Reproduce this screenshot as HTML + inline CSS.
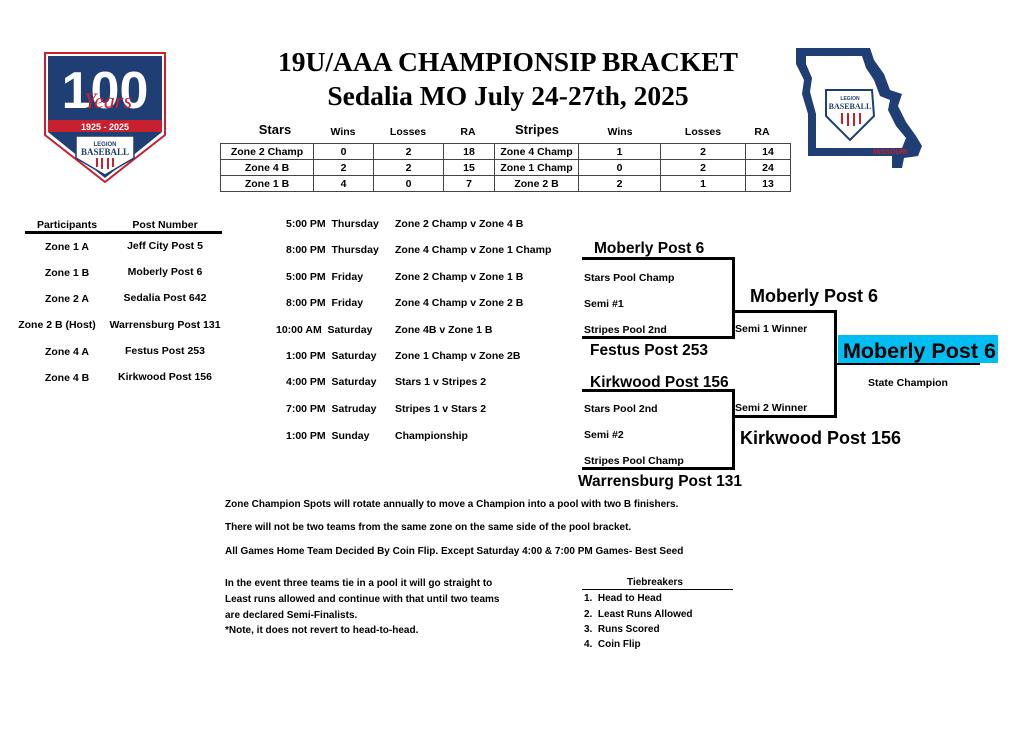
<!DOCTYPE html>
<html><head><meta charset="utf-8"><style>
body{margin:0;width:1024px;height:742px;background:#fff;position:relative;overflow:hidden;font-family:"Liberation Sans",sans-serif;color:#000}
.t{position:absolute;white-space:nowrap;font-weight:bold;font-size:10.5px;line-height:12px}
.c{transform:translateX(-50%)}
.a{font-family:"Liberation Sans",sans-serif;font-weight:bold}
.l{position:absolute;background:#000}
table{position:absolute;left:220px;top:143px;border-collapse:collapse;font-weight:bold;font-size:10.5px}
td{border:1px solid #444;height:15px;padding:0;text-align:center}
</style></head><body>
<svg style="position:absolute;left:40px;top:50px" width="130" height="135" viewBox="0 0 130 135">
<polygon points="5,3 125,3 125,85 65,132 5,85" fill="#fff" stroke="#c8202f" stroke-width="2"/>
<polygon points="8,6 122,6 122,70 8,70" fill="#1f3e74"/>
<text x="65" y="58" font-family="Liberation Sans" font-weight="bold" font-size="52" fill="#fff" text-anchor="middle">100</text>
<text x="68" y="58" font-family="Liberation Serif" font-style="italic" font-size="22" fill="#c8202f" text-anchor="middle">Years</text>
<rect x="8" y="70" width="114" height="12" fill="#c8202f"/>
<text x="65" y="80" font-family="Liberation Sans" font-weight="bold" font-size="9" fill="#fff" text-anchor="middle">1925 - 2025</text>
<polygon points="8,82 122,82 65,128" fill="#1f3e74"/>
<polygon points="36,86 94,86 94,108 65,125 36,108" fill="#fff" stroke="#1f3e74" stroke-width="1.5"/>
<text x="65" y="96" font-size="6" font-family="Liberation Sans" font-weight="bold" fill="#1f3e74" text-anchor="middle">LEGION</text>
<text x="65" y="105" font-size="9" font-family="Liberation Serif" font-weight="bold" fill="#1f3e74" text-anchor="middle">BASEBALL</text>
<g stroke="#c8202f" stroke-width="2"><line x1="57" y1="108" x2="57" y2="117"/><line x1="62" y1="108" x2="62" y2="119"/><line x1="68" y1="108" x2="68" y2="119"/><line x1="73" y1="108" x2="73" y2="117"/></g>
</svg>
<svg style="position:absolute;left:792px;top:44px" width="140" height="125" viewBox="0 0 140 125">
<polygon points="4,4 78,4 82,16 92,30 98,46 110,50 106,62 114,78 124,92 130,102 126,112 112,114 110,124 100,124 100,112 16,112 16,70 10,50 12,36 4,20" fill="#1f3e74"/>
<polygon points="14,12 70,12 74,24 82,36 88,52 98,56 96,66 104,82 114,94 110,104 24,104 24,70 18,48 20,34 14,20" fill="#fff"/>
<polygon points="34,46 80,46 82,72 58,96 34,72" fill="#fff" stroke="#1f3e74" stroke-width="2"/>
<text x="58" y="56" font-size="5" font-family="Liberation Sans" font-weight="bold" fill="#1f3e74" text-anchor="middle">LEGION</text>
<text x="58" y="65" font-size="8" font-family="Liberation Serif" font-weight="bold" fill="#1f3e74" text-anchor="middle">BASEBALL</text>
<g stroke="#c8202f" stroke-width="2"><line x1="50" y1="69" x2="50" y2="80"/><line x1="56" y1="69" x2="56" y2="82"/><line x1="62" y1="69" x2="62" y2="82"/><line x1="68" y1="69" x2="68" y2="80"/></g>
<text x="98" y="110" font-size="7" font-family="Liberation Sans" font-weight="bold" font-style="italic" fill="#c8202f" text-anchor="middle">MISSOURI</text>
</svg>
<div class="t c" style="left:508px;top:46px;font-family:'Liberation Serif',serif;font-size:27.5px;line-height:32px">19U/AAA CHAMPIONSIP BRACKET</div>
<div class="t c" style="left:508px;top:80px;font-family:'Liberation Serif',serif;font-size:27.5px;line-height:32px">Sedalia MO July 24-27th, 2025</div>
<div class="t c" style="left:275px;top:124px;font-size:13px">Stars</div>
<div class="t c" style="left:343px;top:126px">Wins</div>
<div class="t c" style="left:408px;top:126px">Losses</div>
<div class="t c" style="left:468px;top:126px">RA</div>
<div class="t c" style="left:537px;top:124px;font-size:13px">Stripes</div>
<div class="t c" style="left:620px;top:126px">Wins</div>
<div class="t c" style="left:703px;top:126px">Losses</div>
<div class="t c" style="left:762px;top:126px">RA</div>
<table>
<tr><td style="width:92px">Zone 2 Champ</td><td style="width:59px">0</td><td style="width:69px">2</td><td style="width:50px">18</td><td style="width:83px">Zone 4 Champ</td><td style="width:81px">1</td><td style="width:84px">2</td><td style="width:44px">14</td></tr>
<tr><td>Zone 4 B</td><td>2</td><td>2</td><td>15</td><td>Zone 1 Champ</td><td>0</td><td>2</td><td>24</td></tr>
<tr><td>Zone 1 B</td><td>4</td><td>0</td><td>7</td><td>Zone 2 B</td><td>2</td><td>1</td><td>13</td></tr>
</table>
<div class="t c" style="left:67px;top:219px">Participants</div>
<div class="t c" style="left:165px;top:219px">Post Number</div>
<div class="l" style="left:25px;top:231px;width:197px;height:3px"></div>
<div class="t c" style="left:67px;top:241px">Zone 1 A</div><div class="t c" style="left:165px;top:240px">Jeff City Post 5</div>
<div class="t c" style="left:67px;top:267px">Zone 1 B</div><div class="t c" style="left:165px;top:266px">Moberly Post 6</div>
<div class="t c" style="left:67px;top:293px">Zone 2 A</div><div class="t c" style="left:165px;top:292px">Sedalia Post 642</div>
<div class="t c" style="left:57px;top:319px">Zone 2 B (Host)</div><div class="t c" style="left:165px;top:319px">Warrensburg Post 131</div>
<div class="t c" style="left:67px;top:346px">Zone 4 A</div><div class="t c" style="left:165px;top:345px">Festus Post 253</div>
<div class="t c" style="left:67px;top:372px">Zone 4 B</div><div class="t c" style="left:165px;top:371px">Kirkwood Post 156</div>
<div class="t" style="left:286px;top:218px">5:00 PM &nbsp;Thursday</div><div class="t" style="left:395px;top:218px">Zone 2 Champ v Zone 4 B</div>
<div class="t" style="left:286px;top:244px">8:00 PM &nbsp;Thursday</div><div class="t" style="left:395px;top:244px">Zone 4 Champ v Zone 1 Champ</div>
<div class="t" style="left:286px;top:271px">5:00 PM &nbsp;Friday</div><div class="t" style="left:395px;top:271px">Zone 2 Champ v Zone 1 B</div>
<div class="t" style="left:286px;top:297px">8:00 PM &nbsp;Friday</div><div class="t" style="left:395px;top:297px">Zone 4 Champ v Zone 2 B</div>
<div class="t" style="left:276px;top:324px">10:00 AM &nbsp;Saturday</div><div class="t" style="left:395px;top:324px">Zone 4B v Zone 1 B</div>
<div class="t" style="left:286px;top:350px">1:00 PM &nbsp;Saturday</div><div class="t" style="left:395px;top:350px">Zone 1 Champ v Zone 2B</div>
<div class="t" style="left:286px;top:376px">4:00 PM &nbsp;Saturday</div><div class="t" style="left:395px;top:376px">Stars 1 v Stripes 2</div>
<div class="t" style="left:286px;top:403px">7:00 PM &nbsp;Satruday</div><div class="t" style="left:395px;top:403px">Stripes 1 v Stars 2</div>
<div class="t" style="left:286px;top:430px">1:00 PM &nbsp;Sunday</div><div class="t" style="left:395px;top:430px">Championship</div>
<div class="l" style="left:582px;top:257px;width:153px;height:3px"></div>
<div class="l" style="left:732px;top:257px;width:3px;height:82px"></div>
<div class="l" style="left:582px;top:336px;width:153px;height:3px"></div>
<div class="l" style="left:582px;top:389px;width:153px;height:3px"></div>
<div class="l" style="left:732px;top:389px;width:3px;height:81px"></div>
<div class="l" style="left:582px;top:467px;width:153px;height:3px"></div>
<div class="l" style="left:733px;top:310px;width:104px;height:3px"></div>
<div class="l" style="left:834px;top:310px;width:3px;height:107px"></div>
<div class="l" style="left:733px;top:415px;width:104px;height:3px"></div>
<div class="l" style="left:835px;top:363px;width:145px;height:2px"></div>
<div style="position:absolute;left:838px;top:335px;width:160px;height:28px;background:#00bef2"></div>
<div class="t a" style="left:594px;top:240px;font-size:15.5px;line-height:18px">Moberly Post 6</div>
<div class="t" style="left:584px;top:272px">Stars Pool Champ</div>
<div class="t" style="left:584px;top:298px">Semi #1</div>
<div class="t" style="left:584px;top:324px">Stripes Pool 2nd</div>
<div class="t a" style="left:590px;top:342px;font-size:15.5px;line-height:18px">Festus Post 253</div>
<div class="t a" style="left:590px;top:374px;font-size:15.5px;line-height:18px">Kirkwood Post 156</div>
<div class="t" style="left:584px;top:403px">Stars Pool 2nd</div>
<div class="t" style="left:584px;top:429px">Semi #2</div>
<div class="t" style="left:584px;top:455px">Stripes Pool Champ</div>
<div class="t a" style="left:578px;top:473px;font-size:15.5px;line-height:18px">Warrensburg Post 131</div>
<div class="t a" style="left:750px;top:286px;font-size:18px;line-height:21px">Moberly Post 6</div>
<div class="t" style="left:735px;top:323px">Semi 1 Winner</div>
<div class="t" style="left:735px;top:402px">Semi 2 Winner</div>
<div class="t a" style="left:740px;top:428px;font-size:18px;line-height:21px">Kirkwood Post 156</div>
<div class="t a" style="left:843px;top:338px;font-size:21.5px;line-height:26px">Moberly Post 6</div>
<div class="t c" style="left:908px;top:377px">State Champion</div>
<div class="t" style="left:225px;top:499px;font-size:10px">Zone Champion Spots will rotate annually to move a Champion into a pool with two B finishers.</div>
<div class="t" style="left:225px;top:522px;font-size:10px">There will not be two teams from the same zone on the same side of the pool bracket.</div>
<div class="t" style="left:225px;top:546px;font-size:10px">All Games Home Team Decided By Coin Flip. Except Saturday 4:00 &amp; 7:00 PM Games- Best Seed</div>
<div class="t" style="left:225px;top:578px;font-size:10px">In the event three teams tie in a pool it will go straight to</div>
<div class="t" style="left:225px;top:594px;font-size:10px">Least runs allowed and continue with that until two teams</div>
<div class="t" style="left:225px;top:610px;font-size:10px">are declared Semi-Finalists.</div>
<div class="t" style="left:225px;top:625px;font-size:10px">*Note, it does not revert to head-to-head.</div>
<div class="t c" style="left:655px;top:577px;font-size:10px">Tiebreakers</div>
<div class="l" style="left:582px;top:589px;width:151px;height:1px"></div>
<div class="t" style="left:584px;top:593px;font-size:10px">1. &nbsp;Head to Head</div>
<div class="t" style="left:584px;top:609px;font-size:10px">2. &nbsp;Least Runs Allowed</div>
<div class="t" style="left:584px;top:624px;font-size:10px">3. &nbsp;Runs Scored</div>
<div class="t" style="left:584px;top:639px;font-size:10px">4. &nbsp;Coin Flip</div>
</body></html>
